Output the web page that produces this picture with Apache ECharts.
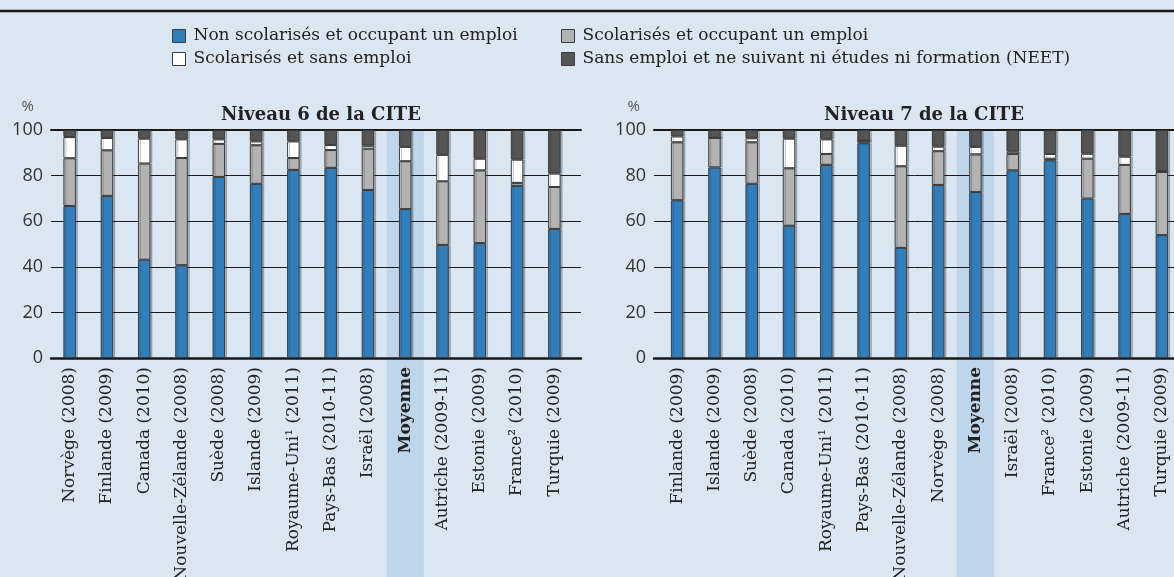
<!DOCTYPE html>
<html>
<head>
<meta charset="utf-8">
<script src="https://cdn.jsdelivr.net/npm/echarts@6/dist/echarts.min.js"></script>
<style>
html,body{margin:0;padding:0;background:#dae6f2;}
#c{width:1174px;height:577px;}
</style>
</head>
<body>
<div id="c"></div>
<script>
// ---- Data ----
const seriesNames = [
  'Non scolarisés et occupant un emploi',
  'Scolarisés et occupant un emploi',
  'Scolarisés et sans emploi',
  'Sans emploi et ne suivant ni études ni formation (NEET)'
];
const panelTitles = ['Niveau 6 de la CITE', 'Niveau 7 de la CITE'];
const yTicks = [0, 20, 40, 60, 80, 100];

const cats6 = ['Norvège (2008)','Finlande (2009)','Canada (2010)','Nouvelle-Zélande (2008)','Suède (2008)','Islande (2009)','Royaume-Uni¹ (2011)','Pays-Bas (2010-11)','Israël (2008)','Moyenne','Autriche (2009-11)','Estonie (2009)','France² (2010)','Turquie (2009)'];
const emploi6    = [66.7,71.1,43.1,40.7,79.4,76.4,82.5,83.4,73.7,65.3,49.6,50.4,75.5,56.6];
const scolEmp6   = [20.9,20.0,42.2,47.0,14.5,16.9,5.2,7.8,18.1,21.0,27.9,31.9,1.3,18.4];
const scolSans6  = [9.3,5.4,10.9,8.2,2.0,1.7,7.3,2.2,1.3,6.3,11.6,5.1,10.2,5.9];
const neet6      = [3.1,3.5,3.8,4.1,4.1,5.0,5.0,6.6,6.9,7.4,10.9,12.6,13.0,19.1];

const cats7 = ['Finlande (2009)','Islande (2009)','Suède (2008)','Canada (2010)','Royaume-Uni¹ (2011)','Pays-Bas (2010-11)','Nouvelle-Zélande (2008)','Norvège (2008)','Moyenne','Israël (2008)','France² (2010)','Estonie (2009)','Autriche (2009-11)','Turquie (2009)'];
const emploi7    = [69.2,83.6,76.4,58.0,84.7,94.2,48.3,75.9,72.8,82.3,86.7,69.9,63.2,53.9];
const scolEmp7   = [25.4,13.0,18.2,25.2,4.8,1.1,35.8,14.8,16.5,7.2,0.7,17.5,21.5,27.7];
const scolSans7  = [2.6,0,1.8,13.0,6.4,0,9.0,2.0,3.3,1.0,2.1,2.2,3.6,0.4];
const neet7      = [2.8,3.4,3.6,3.8,4.1,4.7,6.9,7.3,7.4,9.5,10.5,10.4,11.7,18.0];

// ---- Styles ----
const colors = ['#317ebc', '#b3b3b3', '#ffffff', '#555555'];
const SERIF = '"DejaVu Serif", serif';
const SANS = '"Open Sans", "Noto Sans", sans-serif';
const BG = '#dae6f2';
const HILITE = '#bed5ea';

const chart = echarts.init(document.getElementById('c'), null, {renderer: 'canvas'});

const top0 = 130, h = 228;
const grids = [
  {left: 51, top: top0, width: 530, height: h, outerBoundsMode: 'none', containLabel: false},
  {left: 51, top: top0, width: 522, height: h, outerBoundsMode: 'none', containLabel: false},
  {left: 654, top: top0, width: 530, height: h, outerBoundsMode: 'none', containLabel: false},
  {left: 658.5, top: top0, width: 522, height: h, outerBoundsMode: 'none', containLabel: false}
];

function bgX(gridIndex, pos, w) {
  return {type: 'value', gridIndex, position: pos, min: 0, max: 1,
    axisLine: {show: true, onZero: false, lineStyle: {color: '#1a1a1a', width: w}},
    axisTick: {show: false}, axisLabel: {show: false}, splitLine: {show: false}};
}
function catX(gridIndex, cats) {
  return {type: 'category', gridIndex, data: cats,
    axisLine: {show: false}, axisTick: {show: false},
    axisLabel: {rotate: 90, margin: 9, interval: 0, color: '#222', fontFamily: SERIF, fontSize: 17,
      hideOverlap: false,
      formatter: v => v === 'Moyenne' ? '{b|Moyenne}' : v,
      rich: {b: {fontWeight: 'bold', fontFamily: SERIF, fontSize: 17, color: '#222'}}}};
}
function bgY(gridIndex, padRight) {
  return {type: 'value', gridIndex, min: 0, max: 100, interval: 20,
    name: '%', nameLocation: 'end', nameGap: 16,
    nameTextStyle: {color: '#555', fontFamily: SANS, fontSize: 15, align: 'right', padding: [0, padRight, 0, 0]},
    axisLine: {show: false}, axisTick: {show: false},
    axisLabel: {margin: 8, color: '#333', fontFamily: SANS, fontSize: 18},
    splitLine: {show: true, lineStyle: {color: '#1a1a1a', width: 1}}};
}
function hiddenY(gridIndex) {
  return {type: 'value', gridIndex, min: 0, max: 100, interval: 20, show: false, splitLine: {show: false}};
}

const itemBase = {borderColor: '#3c3c3c', borderWidth: 1, shadowColor: 'rgba(60,60,60,0.3)', shadowOffsetX: 2, shadowBlur: 0};
function makeSeries(xi, yi, stack, arrs) {
  return arrs.map((arr, i) => ({
    name: seriesNames[i], type: 'bar', stack, xAxisIndex: xi, yAxisIndex: yi,
    data: arr, barWidth: 12.5,
    itemStyle: Object.assign({color: colors[i]}, itemBase),
    emphasis: {disabled: true}
  }));
}

const legendText = {fontFamily: SERIF, fontSize: 17, color: '#222', lineHeight: 20, padding: [0, 0, 0, 3]};
const legendBase = {top: 26, orient: 'vertical', padding: 0, icon: 'rect', itemWidth: 13, itemHeight: 13,
  itemGap: 3, textStyle: legendText, selectedMode: false,
  itemStyle: {borderColor: '#3c3c3c', borderWidth: 1, shadowColor: 'transparent'}};
chart.setOption({
  backgroundColor: BG,
  animation: false,
  title: [
    {text: panelTitles[0], left: 316, top: 101, textAlign: 'center',
     textStyle: {fontFamily: SERIF, fontWeight: 'bold', fontSize: 18, color: '#222'}},
    {text: panelTitles[1], left: 919, top: 101, textAlign: 'center',
     textStyle: {fontFamily: SERIF, fontWeight: 'bold', fontSize: 18, color: '#222'}}
  ],
  legend: [
    Object.assign({left: 172, data: [seriesNames[0], seriesNames[2]]}, legendBase),
    Object.assign({left: 561, data: [seriesNames[1], seriesNames[3]]}, legendBase)
  ],
  grid: grids,
  xAxis: [bgX(0, 'bottom', 2.5), bgX(0, 'top', 2), catX(1, cats6),
          bgX(2, 'bottom', 2.5), bgX(2, 'top', 2), catX(3, cats7)],
  yAxis: [bgY(0, 17), hiddenY(1), bgY(2, 14), hiddenY(3)],
  series: [].concat(
    makeSeries(2, 1, 'n6', [emploi6, scolEmp6, scolSans6, neet6]),
    makeSeries(5, 3, 'n7', [emploi7, scolEmp7, scolSans7, neet7])
  ),
  graphic: [
    {id: 'topline', type: 'line', z: 10, shape: {x1: 0, y1: 11, x2: 1174, y2: 11},
     style: {stroke: '#1a1a1a', lineWidth: 2.5}}
  ]
});

// Highlight band behind "Moyenne" in each panel, located through the category axes
function band(xAxisIndex, cats, id) {
  const i = cats.indexOf('Moyenne');
  const cx = chart.convertToPixel({xAxisIndex}, cats[i]);
  const nx = chart.convertToPixel({xAxisIndex}, cats[i + 1]);
  const w = Math.abs(nx - cx);
  return {id, type: 'rect', z: -1, silent: true,
    shape: {x: cx - w / 2, y: top0, width: w, height: 577 - top0},
    style: {fill: HILITE}};
}
chart.setOption({graphic: [band(2, cats6, 'band6'), band(5, cats7, 'band7')]});
</script>
</body>
</html>
